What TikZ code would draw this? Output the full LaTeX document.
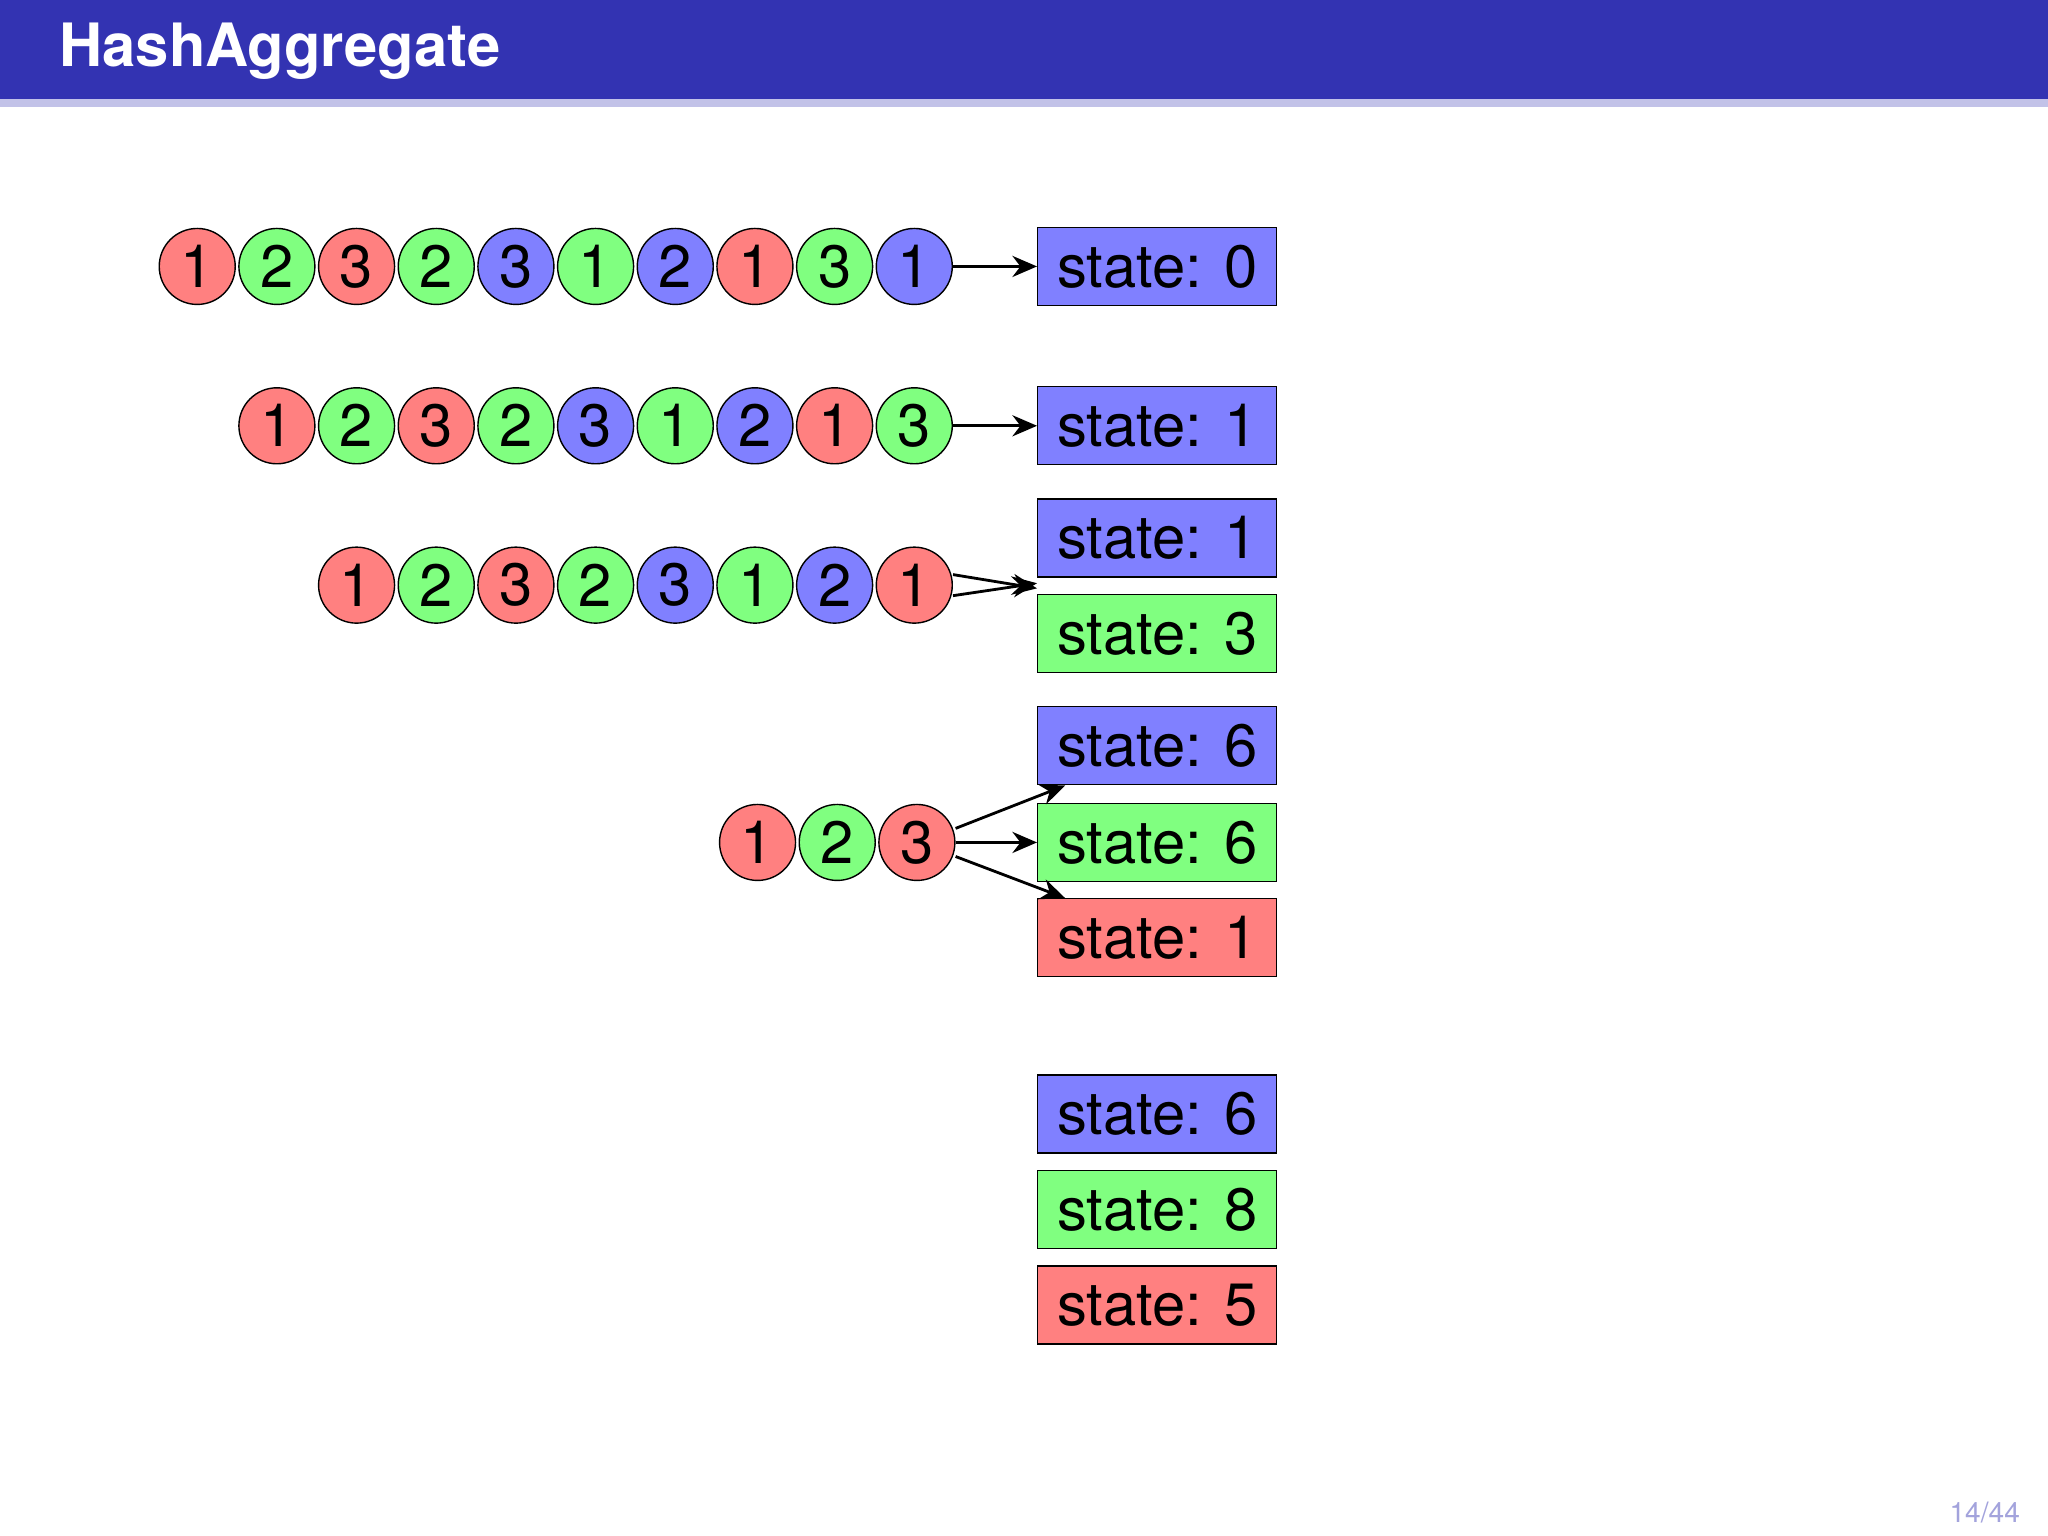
\documentclass[tikz,border=0pt]{standalone}
\usepackage{fontspec}
\setmainfont{TeX Gyre Heros}
\usetikzlibrary{positioning,arrows.meta}
\definecolor{barblue}{RGB}{51,51,178}
\definecolor{cred}{RGB}{255,128,128}
\definecolor{cgreen}{RGB}{128,255,128}
\definecolor{cblue}{RGB}{128,128,255}
\tikzset{
  val/.style={circle,draw,fill=#1,minimum size=0.76cm,inner sep=0pt,font=\fontsize{17}{17}\selectfont},
  statebox/.style={draw,fill=#1,minimum width=2.39cm,minimum height=0.78cm,inner sep=0pt,font=\fontsize{17}{17}\selectfont},
  flow/.style={-{Stealth[length=7pt,width=6pt]},thick}
}
\begin{document}
\begin{tikzpicture}[x=0.013061cm,y=-0.013061cm]
\useasboundingbox (0,0) rectangle (1568,1176);
% title bar
\fill[barblue] (0,0) rectangle (1568,76);
\fill[barblue!30] (0,76) rectangle (1568,82);
\node[anchor=west,text=white,font=\fontsize{17}{17}\selectfont\bfseries] (title) at (36,39) {HashAggregate};
\node[anchor=east,text=barblue!45,font=\fontsize{8}{8}\selectfont] (page) at (1556,1158) {14/44};

% row 1
\foreach \v/\c [count=\i] in {1/cred,2/cgreen,3/cred,2/cgreen,3/cblue,1/cgreen,2/cblue,1/cred,3/cgreen,1/cblue}
  \node[val=\c] (a\i) at ({151+61*(\i-1)},204) {\v};
\node[statebox=cblue] (sa) at (886,204) {state: 0};
\draw[flow] (a10) -- (sa);

% row 2
\foreach \v/\c [count=\i] in {1/cred,2/cgreen,3/cred,2/cgreen,3/cblue,1/cgreen,2/cblue,1/cred,3/cgreen}
  \node[val=\c] (b\i) at ({212+61*(\i-1)},326) {\v};
\node[statebox=cblue] (sb) at (886,326) {state: 1};
\draw[flow] (b9) -- (sb);

% row 3
\foreach \v/\c [count=\i] in {1/cred,2/cgreen,3/cred,2/cgreen,3/cblue,1/cgreen,2/cblue,1/cred}
  \node[val=\c] (c\i) at ({273+61*(\i-1)},448) {\v};
\node[statebox=cblue] (sc1) at (886,412) {state: 1};
\node[statebox=cgreen] (sc2) at (886,485) {state: 3};
\draw[flow] ([yshift=3pt]c8.east) -- ([yshift=-3pt]sc1.south west);
\draw[flow] ([yshift=-3pt]c8.east) -- ([yshift=3pt]sc2.north west);

% row 4
\foreach \v/\c [count=\i] in {1/cred,2/cgreen,3/cred}
  \node[val=\c] (d\i) at ({580+61*(\i-1)},645) {\v};
\node[statebox=cblue] (sd1) at (886,571) {state: 6};
\node[statebox=cgreen] (sd2) at (886,645) {state: 6};
\node[statebox=cred] (sd3) at (886,718) {state: 1};
\draw[flow] ([yshift=4pt]d3.east) -- ([xshift=8pt]sd1.south west);
\draw[flow] (d3) -- (sd2);
\draw[flow] ([yshift=-4pt]d3.east) -- ([xshift=8pt]sd3.north west);

% result
\node[statebox=cblue] (se1) at (886,853) {state: 6};
\node[statebox=cgreen] (se2) at (886,926) {state: 8};
\node[statebox=cred] (se3) at (886,999) {state: 5};
\end{tikzpicture}
\end{document}
